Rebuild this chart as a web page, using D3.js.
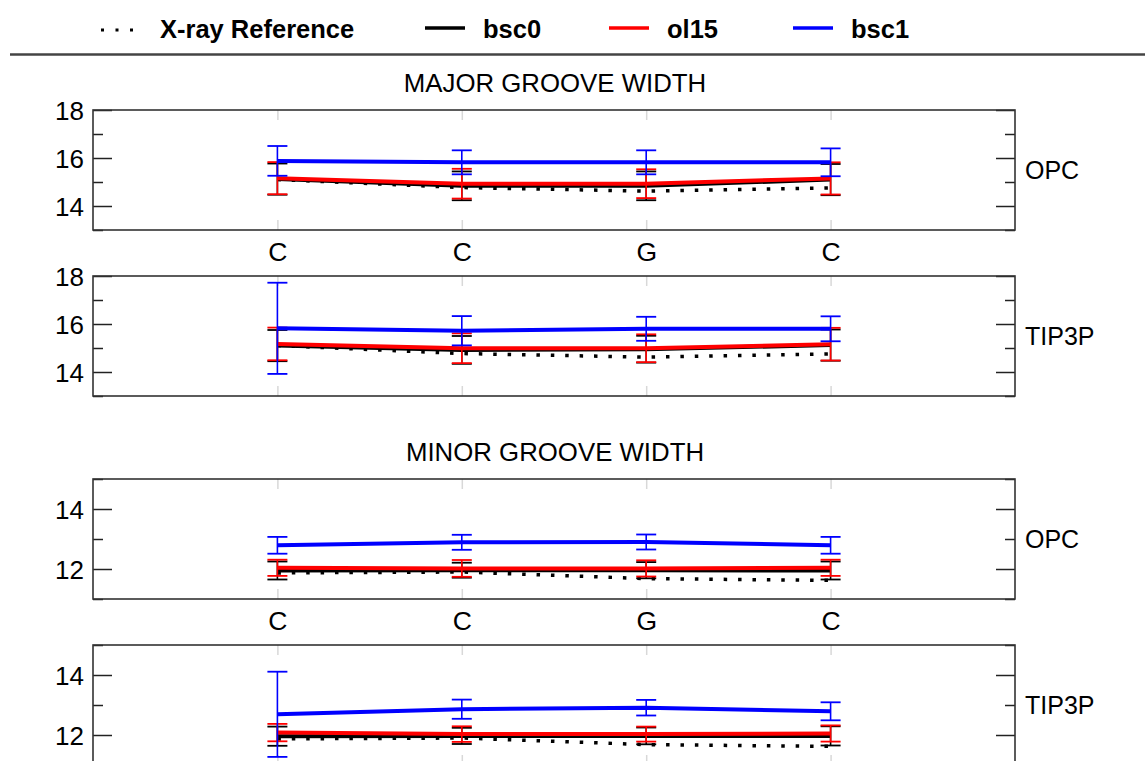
<!DOCTYPE html>
<html>
<head>
<meta charset="utf-8">
<script src="https://cdn.jsdelivr.net/npm/d3@7"></script>
<style>
  html, body { margin: 0; padding: 0; background: #fff; }
  svg { display: block; font-family: "Liberation Sans", Arial, Helvetica, sans-serif; }
</style>
</head>
<body>
<svg id="chart" width="1145" height="761"></svg>
<script>
// Base-pair step labels along the x axis
const bases = ["C", "C", "G", "C"];

// X-ray reference groove widths (Å)
const xrayMajor = [15.10, 14.77, 14.62, 14.75];
const xrayMinor = [11.87, 11.90, 11.68, 11.62];

// Major groove width, OPC water
const bsc0MajorOPC = [15.12, 14.84, 14.84, 15.10];
const bsc0MajorOPCErr = [0.65, 0.60, 0.60, 0.65];
const ol15MajorOPC = [15.16, 14.93, 14.93, 15.15];
const ol15MajorOPCErr = [0.67, 0.62, 0.60, 0.67];
const bsc1MajorOPC = [15.88, 15.82, 15.82, 15.82];
const bsc1MajorOPCErr = [0.62, 0.50, 0.50, 0.58];

// Major groove width, TIP3P water
const bsc0MajorTIP3P = [15.10, 14.92, 14.95, 15.12];
const bsc0MajorTIP3PErr = [0.65, 0.58, 0.56, 0.65];
const ol15MajorTIP3P = [15.17, 14.99, 14.99, 15.16];
const ol15MajorTIP3PErr = [0.68, 0.62, 0.58, 0.68];
const bsc1MajorTIP3P = [15.82, 15.72, 15.80, 15.80];
const bsc1MajorTIP3PErr = [1.90, 0.61, 0.50, 0.52];

// Minor groove width, OPC water
const bsc0MinorOPC = [11.95, 11.96, 11.96, 11.95];
const bsc0MinorOPCErr = [0.30, 0.25, 0.27, 0.30];
const ol15MinorOPC = [12.04, 12.02, 12.02, 12.04];
const ol15MinorOPCErr = [0.27, 0.28, 0.27, 0.27];
const bsc1MinorOPC = [12.79, 12.89, 12.90, 12.79];
const bsc1MinorOPCErr = [0.28, 0.25, 0.25, 0.28];

// Minor groove width, TIP3P water
const bsc0MinorTIP3P = [11.96, 11.97, 11.97, 11.97];
const bsc0MinorTIP3PErr = [0.32, 0.27, 0.28, 0.32];
const ol15MinorTIP3P = [12.08, 12.03, 12.03, 12.05];
const ol15MinorTIP3PErr = [0.29, 0.26, 0.25, 0.27];
const bsc1MinorTIP3P = [12.69, 12.86, 12.91, 12.79];
const bsc1MinorTIP3PErr = [1.42, 0.32, 0.26, 0.30];

// Axis ticks
const majorGrooveTicks = [14, 16, 18];
const majorGrooveMinorTicks = [13, 15, 17];
const minorGrooveTicks = [12, 14];
const minorGrooveMinorTicks = [11, 13, 15];

const legendNames = ["X-ray Reference", "bsc0", "ol15", "bsc1"];

const colors = { bsc0: "#000000", ol15: "#ff0000", bsc1: "#0000ff" };
const font = "\"Liberation Sans\", Arial, Helvetica, sans-serif";

const svg = d3.select("#chart");

// ---------- legend ----------
const legend = svg.append("g");
legend.append("line")
  .attr("x1", 101).attr("x2", 134).attr("y1", 30).attr("y2", 30)
  .attr("stroke", "#000").attr("stroke-width", 3)
  .attr("stroke-dasharray", "3 11.5");
legend.append("text").attr("x", 160).attr("y", 38)
  .attr("font-size", 25.5).attr("font-weight", "bold").text(legendNames[0]);

const legendItems = [
  { name: legendNames[1], color: colors.bsc0, x: 425 },
  { name: legendNames[2], color: colors.ol15, x: 609 },
  { name: legendNames[3], color: colors.bsc1, x: 793 }
];
legendItems.forEach(d => {
  legend.append("line")
    .attr("x1", d.x).attr("x2", d.x + 40).attr("y1", 28).attr("y2", 28)
    .attr("stroke", d.color).attr("stroke-width", 3.5);
  legend.append("text").attr("x", d.x + 58).attr("y", 38)
    .attr("font-size", 25.5).attr("font-weight", "bold").text(d.name);
});

svg.append("line")
  .attr("x1", 10).attr("x2", 1145).attr("y1", 54.5).attr("y2", 54.5)
  .attr("stroke", "#444").attr("stroke-width", 2.5);

// ---------- section titles ----------
svg.append("text").attr("x", 555).attr("y", 92).attr("text-anchor", "middle")
  .attr("font-size", 25.8).text("MAJOR GROOVE WIDTH");
svg.append("text").attr("x", 555).attr("y", 461).attr("text-anchor", "middle")
  .attr("font-size", 25.8).text("MINOR GROOVE WIDTH");

// ---------- panels ----------
const left = 93, right = 1015, panelH = 120;
const x = d3.scaleLinear().domain([0, bases.length + 1]).range([left, right]);

const panels = [
  { top: 110, domain: [13, 18], ticks: majorGrooveTicks, minor: majorGrooveMinorTicks,
    xray: xrayMajor, label: "OPC", showBases: true,
    series: [
      { key: "bsc0", v: bsc0MajorOPC, e: bsc0MajorOPCErr },
      { key: "ol15", v: ol15MajorOPC, e: ol15MajorOPCErr },
      { key: "bsc1", v: bsc1MajorOPC, e: bsc1MajorOPCErr } ] },
  { top: 276, domain: [13, 18], ticks: majorGrooveTicks, minor: majorGrooveMinorTicks,
    xray: xrayMajor, label: "TIP3P", showBases: false,
    series: [
      { key: "bsc0", v: bsc0MajorTIP3P, e: bsc0MajorTIP3PErr },
      { key: "ol15", v: ol15MajorTIP3P, e: ol15MajorTIP3PErr },
      { key: "bsc1", v: bsc1MajorTIP3P, e: bsc1MajorTIP3PErr } ] },
  { top: 479, domain: [11, 15], ticks: minorGrooveTicks, minor: minorGrooveMinorTicks,
    xray: xrayMinor, label: "OPC", showBases: true,
    series: [
      { key: "bsc0", v: bsc0MinorOPC, e: bsc0MinorOPCErr },
      { key: "ol15", v: ol15MinorOPC, e: ol15MinorOPCErr },
      { key: "bsc1", v: bsc1MinorOPC, e: bsc1MinorOPCErr } ] },
  { top: 645, domain: [11, 15], ticks: minorGrooveTicks, minor: minorGrooveMinorTicks,
    xray: xrayMinor, label: "TIP3P", showBases: false,
    series: [
      { key: "bsc0", v: bsc0MinorTIP3P, e: bsc0MinorTIP3PErr },
      { key: "ol15", v: ol15MinorTIP3P, e: ol15MinorTIP3PErr },
      { key: "bsc1", v: bsc1MinorTIP3P, e: bsc1MinorTIP3PErr } ] }
];

const xPos = i => x(i + 1);

panels.forEach(p => {
  const y = d3.scaleLinear().domain(p.domain).range([p.top + panelH, p.top]);
  const g = svg.append("g");

  // light category ticks inside the frame, top and bottom
  const catAxisB = d3.axisBottom(x).tickValues(bases.map((b, i) => i + 1)).tickSize(-10).tickFormat("");
  const catAxisT = d3.axisTop(x).tickValues(bases.map((b, i) => i + 1)).tickSize(-10).tickFormat("");
  [g.append("g").attr("transform", `translate(0,${p.top + panelH})`).call(catAxisB),
   g.append("g").attr("transform", `translate(0,${p.top})`).call(catAxisT)]
    .forEach(a => {
      a.select(".domain").remove();
      a.selectAll(".tick line").attr("stroke", "#d8d8d8").attr("stroke-width", 1.5);
    });

  // y axes: major ticks with labels on the left, minor ticks, mirrored on the right
  const yl = g.append("g").attr("transform", `translate(${left},0)`)
    .call(d3.axisLeft(y).tickValues(p.ticks).tickSize(-19).tickPadding(9).tickFormat(d3.format("d")));
  yl.select(".domain").remove();
  yl.selectAll(".tick line").attr("stroke", "#222").attr("stroke-width", 1.5);
  yl.selectAll(".tick text").attr("font-size", 26).attr("font-family", font).attr("fill", "#000")
    .attr("dy", "0.36em");
  const ylm = g.append("g").attr("transform", `translate(${left},0)`)
    .call(d3.axisLeft(y).tickValues(p.minor).tickSize(-10).tickFormat(""));
  ylm.select(".domain").remove();
  ylm.selectAll(".tick line").attr("stroke", "#222").attr("stroke-width", 1.5);

  const yr = g.append("g").attr("transform", `translate(${right},0)`)
    .call(d3.axisRight(y).tickValues(p.ticks).tickSize(-19).tickFormat(""));
  yr.select(".domain").remove();
  yr.selectAll(".tick line").attr("stroke", "#222").attr("stroke-width", 1.5);
  const yrm = g.append("g").attr("transform", `translate(${right},0)`)
    .call(d3.axisRight(y).tickValues(p.minor).tickSize(-10).tickFormat(""));
  yrm.select(".domain").remove();
  yrm.selectAll(".tick line").attr("stroke", "#222").attr("stroke-width", 1.5);

  // base labels under the frame
  if (p.showBases) {
    const xb = g.append("g").attr("transform", `translate(0,${p.top + panelH})`)
      .call(d3.axisBottom(x).tickValues(bases.map((b, i) => i + 1)).tickSize(0).tickPadding(12)
        .tickFormat(d => bases[d - 1]));
    xb.select(".domain").remove();
    xb.selectAll(".tick text").attr("font-size", 26.5).attr("font-family", font).attr("fill", "#000");
  }

  // right-hand water model label
  g.append("text").attr("x", 1025).attr("y", p.top + panelH / 2)
    .attr("dy", "0.36em").attr("font-size", 25).text(p.label);

  // X-ray reference, dotted
  const line = d3.line().x((d, i) => xPos(i)).y(d => y(d));
  g.append("path").datum(p.xray).attr("d", line)
    .attr("fill", "none").attr("stroke", "#000").attr("stroke-width", 3.5)
    .attr("stroke-dasharray", "3.5 10.9");

  // force-field series: line plus error bars
  p.series.forEach(s => {
    const c = colors[s.key];
    const sg = g.append("g");
    sg.append("path").datum(s.v).attr("d", line)
      .attr("fill", "none").attr("stroke", c).attr("stroke-width", 4)
      .attr("stroke-linejoin", "round");
    s.v.forEach((v, i) => {
      const cx = xPos(i), y0 = y(v - s.e[i]), y1 = y(v + s.e[i]);
      sg.append("line").attr("x1", cx).attr("x2", cx).attr("y1", y0).attr("y2", y1)
        .attr("stroke", c).attr("stroke-width", 1.6);
      [y0, y1].forEach(yy => {
        sg.append("line").attr("x1", cx - 10).attr("x2", cx + 10).attr("y1", yy).attr("y2", yy)
          .attr("stroke", c).attr("stroke-width", 1.8);
      });
    });
  });

  // frame
  g.append("rect").attr("x", left).attr("y", p.top).attr("width", right - left).attr("height", panelH)
    .attr("fill", "none").attr("stroke", "#333").attr("stroke-width", 1.6);
});
</script>
</body>
</html>
